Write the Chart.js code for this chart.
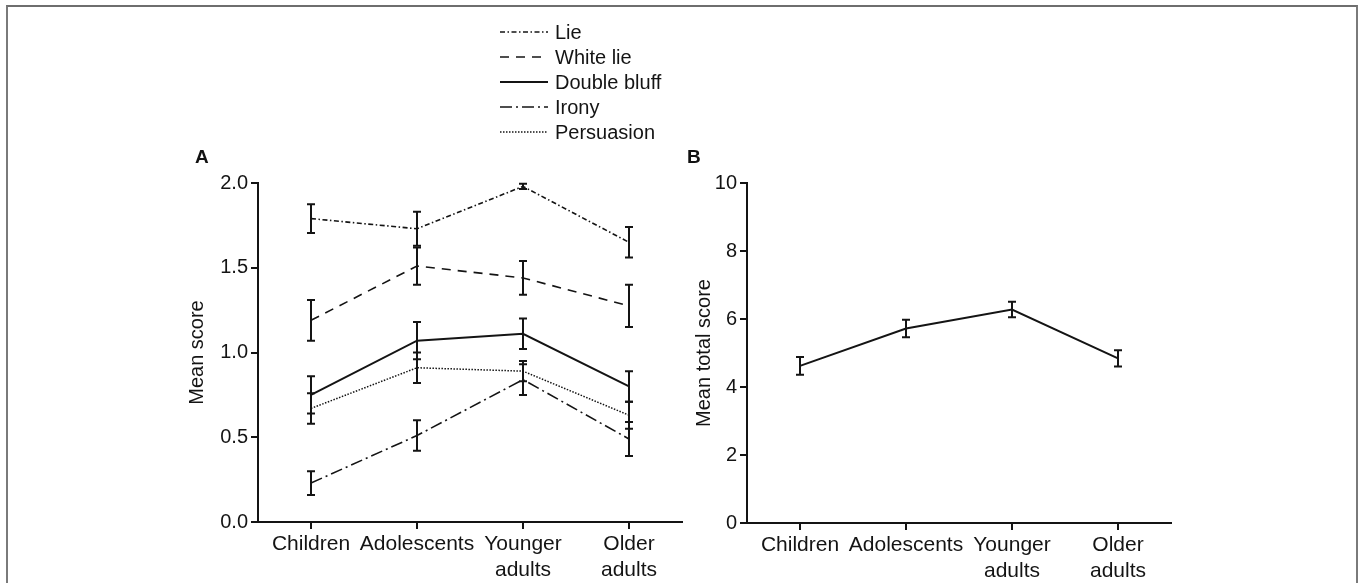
<!DOCTYPE html>
<html>
<head>
<meta charset="utf-8">
<script src="https://cdn.jsdelivr.net/npm/chart.js@4.4.1/dist/chart.umd.min.js"></script>
<style>
  html, body { margin: 0; padding: 0; background: #fff; }
  #wrap { position: relative; width: 1360px; height: 583px; overflow: hidden; background: #fff; }
  #frame { position: absolute; left: 6px; top: 5px; width: 1348px; height: 600px;
           border-top: 2px solid #6e6e6e; border-left: 2px solid #7a7a7a; border-right: 2px solid #7a7a7a; }
  #boxA { position: absolute; left: 0; top: 0; width: 700px; height: 583px; }
  #boxB { position: absolute; left: 690px; top: 0; width: 670px; height: 583px; }
  .panel { position: absolute; font: bold 19px 'Liberation Sans', Arial, sans-serif; color: #111; }
</style>
</head>
<body>
<div id="wrap">
  <div id="frame"></div>
  <div id="boxA"><canvas id="chartA" width="700" height="583"></canvas></div>
  <div id="boxB"><canvas id="chartB" width="670" height="583"></canvas></div>
  <div class="panel" style="left:195px; top:146px;">A</div>
  <div class="panel" style="left:687px; top:146px;">B</div>
</div>
<script>
// ---- data ----
const categories = ['Children', 'Adolescents', ['Younger', 'adults'], ['Older', 'adults']];
const seriesNames = ['Lie', 'White lie', 'Double bluff', 'Irony', 'Persuasion'];
const lieMean = [1.79, 1.73, 1.98, 1.65];
const lieErr = [0.085, 0.10, 0.015, 0.09];
const whiteLieMean = [1.19, 1.51, 1.44, 1.275];
const whiteLieErr = [0.12, 0.11, 0.10, 0.125];
const doubleBluffMean = [0.75, 1.07, 1.11, 0.80];
const doubleBluffErr = [0.11, 0.11, 0.09, 0.09];
const ironyMean = [0.23, 0.51, 0.84, 0.49];
const ironyErr = [0.07, 0.09, 0.09, 0.10];
const persuasionMean = [0.67, 0.91, 0.89, 0.63];
const persuasionErr = [0.09, 0.09, 0.06, 0.08];
const totalMean = [4.62, 5.72, 6.28, 4.84];
const totalErr = [0.26, 0.26, 0.23, 0.24];
const yTicksA = [0, 0.5, 1.0, 1.5, 2.0];
const yTicksB = [0, 2, 4, 6, 8, 10];

const INK = '#141414';
Chart.defaults.font.family = "'Liberation Sans', Arial, sans-serif";
Chart.defaults.font.size = 20;
Chart.defaults.color = INK;
Chart.defaults.animation = false;

// error bars drawn through the chart's scales
const errorBarPlugin = {
  id: 'errorBars',
  afterDatasetsDraw(chart) {
    const ctx = chart.ctx;
    const yScale = chart.scales.y;
    chart.data.datasets.forEach((ds, di) => {
      if (!ds.errorBars) return;
      const meta = chart.getDatasetMeta(di);
      ctx.save();
      ctx.strokeStyle = INK;
      ctx.lineWidth = 2;
      ctx.setLineDash([]);
      meta.data.forEach((pt, i) => {
        const v = ds.data[i], e = ds.errorBars[i];
        const x = pt.x;
        const yHi = yScale.getPixelForValue(v + e);
        const yLo = yScale.getPixelForValue(v - e);
        ctx.beginPath();
        ctx.moveTo(x, yHi); ctx.lineTo(x, yLo);
        ctx.moveTo(x - 4, yHi); ctx.lineTo(x + 4, yHi);
        ctx.moveTo(x - 4, yLo); ctx.lineTo(x + 4, yLo);
        ctx.stroke();
      });
      ctx.restore();
    });
  }
};

// vertical legend above panel A
const stackedLegend = {
  id: 'stackedLegend',
  afterDraw(chart) {
    const ctx = chart.ctx;
    ctx.save();
    ctx.font = "20px 'Liberation Sans', Arial, sans-serif";
    ctx.fillStyle = INK;
    ctx.textBaseline = 'middle';
    chart.data.datasets.forEach((ds, i) => {
      const y = 32 + i * 25;
      ctx.strokeStyle = INK;
      ctx.lineWidth = ds.borderWidth;
      ctx.setLineDash(ds.borderDash || []);
      ctx.beginPath();
      ctx.moveTo(500, y); ctx.lineTo(548, y);
      ctx.stroke();
      ctx.setLineDash([]);
      ctx.fillText(ds.label, 555, y + 1);
    });
    ctx.restore();
  }
};

function lineDs(label, data, err, dash, width) {
  return {
    label, data, errorBars: err,
    borderColor: INK, backgroundColor: INK,
    borderWidth: width, borderDash: dash,
    pointRadius: 0, tension: 0, fill: false
  };
}

function axes(yMin, yMax, yTicks, yTitle, yWidth, xHeight, fmt) {
  return {
    x: {
      type: 'category',
      offset: true,
      afterFit: s => { s.height = xHeight; },
      grid: { display: true, drawOnChartArea: false, drawTicks: true, offset: false,
              tickLength: 7, lineWidth: 2, tickWidth: 2, tickColor: INK, color: INK },
      border: { display: true, color: INK, width: 2 },
      ticks: { padding: 2, color: INK, maxRotation: 0, autoSkip: false,
               font: { size: 21, lineHeight: 1.25 } }
    },
    y: {
      min: yMin, max: yMax,
      afterFit: s => { s.width = yWidth; },
      afterBuildTicks: s => { s.ticks = yTicks.map(v => ({ value: v })); },
      grid: { display: true, drawOnChartArea: false, drawTicks: true,
              tickLength: 7, lineWidth: 2, tickWidth: 2, tickColor: INK, color: INK },
      border: { display: true, color: INK, width: 2 },
      ticks: { padding: 3, color: INK, callback: v => fmt(v), font: { size: 20 } },
      title: { display: true, text: yTitle, color: INK, padding: 0,
               font: { size: 20, lineHeight: 1.2 } }
    }
  };
}

new Chart(document.getElementById('chartA'), {
  type: 'line',
  data: {
    labels: categories,
    datasets: [
      lineDs(seriesNames[0], lieMean, lieErr, [5, 2.5, 1.5, 2.5], 1.6),
      lineDs(seriesNames[1], whiteLieMean, whiteLieErr, [9, 7], 1.6),
      lineDs(seriesNames[2], doubleBluffMean, doubleBluffErr, [], 2),
      lineDs(seriesNames[3], ironyMean, ironyErr, [12, 4, 2, 4], 1.6),
      lineDs(seriesNames[4], persuasionMean, persuasionErr, [1.5, 1.5], 1.5)
    ]
  },
  options: {
    responsive: false,
    layout: { padding: { left: 185, top: 183, right: 18, bottom: 0 } },
    plugins: { legend: { display: false }, tooltip: { enabled: false } },
    scales: axes(0, 2, yTicksA, 'Mean score', 73, 61, v => Number(v).toFixed(1))
  },
  plugins: [errorBarPlugin, stackedLegend]
});

new Chart(document.getElementById('chartB'), {
  type: 'line',
  data: {
    labels: categories,
    datasets: [ lineDs('Total', totalMean, totalErr, [], 2) ]
  },
  options: {
    responsive: false,
    layout: { padding: { left: 2, top: 183, right: 189, bottom: 0 } },
    plugins: { legend: { display: false }, tooltip: { enabled: false } },
    scales: axes(0, 10, yTicksB, 'Mean total score', 55, 60, v => String(v))
  },
  plugins: [errorBarPlugin]
});
</script>
</body>
</html>
